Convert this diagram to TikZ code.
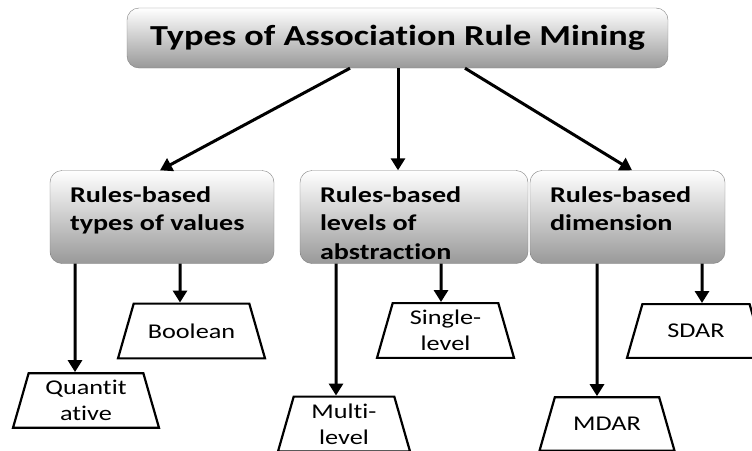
\documentclass[tikz,border=0pt]{standalone}
\usepackage{fontspec}
\setmainfont[FakeStretch=1.25, Ligatures=NoCommon]{Carlito}
\usepackage{tikz}
\usetikzlibrary{shapes.geometric,arrows.meta}

\begin{document}
\begin{tikzpicture}[x=1pt, y=-1pt,
    head/.style = {draw=gray, rounded corners=12pt, top color=white, bottom color=black!40,
      minimum width=541pt, minimum height=60pt, font=\bfseries\fontsize{29}{32}\selectfont},
    rulebox/.style = {draw=gray, rounded corners=12pt, top color=white, bottom color=black!40,
      minimum height=93pt},
    ruletext/.style = {anchor=north west, align=left, inner sep=0pt,
      font=\bfseries\fontsize{22.5}{28.5}\selectfont},
    leaf/.style = {draw, line width=2.2pt, trapezium, trapezium left angle=74,
      trapezium right angle=74, trapezium stretches body=true, inner xsep=0pt,
      inner ysep=20pt, align=center, font=\fontsize{21}{26}\selectfont},
    leaftwo/.style = {leaf, inner ysep=7pt},
    arr/.style = {line width=3pt, -{Triangle[length=12pt,width=14pt]}}]
        \useasboundingbox (0,0) rectangle (752,450);
        \node[head] (title) at (397.5,38) {Types of Association Rule Mining};

        \node[rulebox, minimum width=224pt] (vals) at (162,217) {};
        \node[rulebox, minimum width=228pt] (abst) at (414,217) {};
        \node[rulebox, minimum width=195pt] (dim) at (627.5,217) {};
        \node[ruletext] at ([xshift=20pt,yshift=-16pt]vals.north west) {Rules-based\\types of values};
        \node[ruletext] at ([xshift=20pt,yshift=-16pt]abst.north west) {Rules-based\\levels of\\abstraction};
        \node[ruletext] at ([xshift=20pt,yshift=-16pt]dim.north west) {Rules-based\\dimension};

        \node[leaftwo, minimum width=146pt] (quant) at (86,400.5) {Quantit\\ative};
        \node[leaf, minimum width=147pt] (bool) at (191.5,331) {Boolean};
        \node[leaftwo, minimum width=132pt] (multi) at (344,424) {Multi-\\level};
        \node[leaftwo, minimum width=137pt] (single) at (445.5,330.5) {Single-\\level};
        \node[leaf, minimum width=135pt] (mdar) at (607,424) {MDAR};
        \node[leaf, minimum width=138pt] (sdar) at (696,331) {SDAR};

        \draw[arr] ([xshift=-47.5pt]title.south) -- ([xshift=-2pt]vals.north);
        \draw[arr] ([xshift=0.5pt]title.south) -- ([xshift=-16pt]abst.north);
        \draw[arr] ([xshift=67.5pt]title.south) -- ([xshift=4.5pt]dim.north);

        \draw[arr] ([xshift=-87pt]vals.south) -- ([xshift=-11pt]quant.north);
        \draw[arr] ([xshift=18pt]vals.south) -- ([xshift=-11.5pt]bool.north);
        \draw[arr] ([xshift=-78pt]abst.south) -- ([xshift=-8pt]multi.north);
        \draw[arr] ([xshift=27pt]abst.south) -- ([xshift=-4.5pt]single.north);
        \draw[arr] ([xshift=-30.5pt]dim.south) -- ([xshift=-10pt]mdar.north);
        \draw[arr] ([xshift=74.5pt]dim.south) -- ([xshift=6pt]sdar.north);
      \end{tikzpicture}
\end{document}
